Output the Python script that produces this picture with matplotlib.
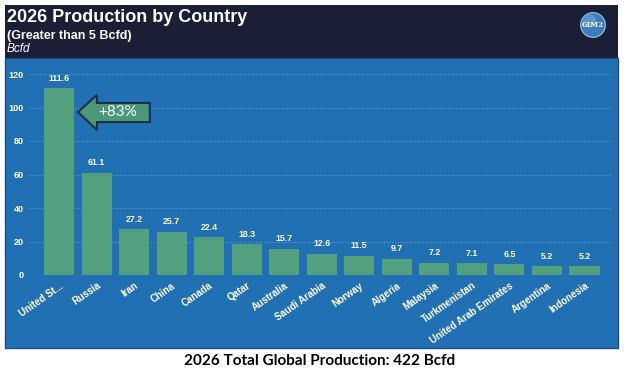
import matplotlib
matplotlib.use("Agg")
import matplotlib.pyplot as plt
from matplotlib.patches import Rectangle, Polygon, Circle

countries = ["United St...", "Russia", "Iran", "China", "Canada", "Qatar", "Australia",
             "Saudi Arabia", "Norway", "Algeria", "Malaysia", "Turkmenistan",
             "United Arab Emirates", "Argentina", "Indonesia"]
production = [111.6, 61.1, 27.2, 25.7, 22.4, 18.3, 15.7, 12.6, 11.5, 9.7, 7.2, 7.1, 6.5, 5.2, 5.2]
yticks = [0, 20, 40, 60, 80, 100, 120]
title = "2026 Production by Country"
subtitle = "(Greater than 5 Bcfd)"
unit = "Bcfd"
arrow_label = "+83%"
footer = "2026 Total Global Production: 422 Bcfd"

W, H = 624, 374
fig = plt.figure(figsize=(W / 100, H / 100), dpi=100)
fig.patch.set_facecolor("white")

def fx(px):
    return px / W

def fy(py):
    return 1 - py / H

NAVY = "#1b1f36"
BLUE = "#2170b3"
GREEN = "#52a07d"

# panel backgrounds
fig.patches.append(Rectangle((fx(5), fy(348)), fx(613) - fx(0), fy(58) - fy(348),
                             transform=fig.transFigure, facecolor=BLUE,
                             edgecolor="#1a4f86", linewidth=1.0, zorder=-10))
fig.patches.append(Rectangle((fx(5), fy(58)), fx(613) - fx(0), fy(5) - fy(58),
                             transform=fig.transFigure, facecolor=NAVY,
                             edgecolor="none", zorder=-10))

fig.text(fx(7), fy(18), title, color="white", fontsize=13, fontweight="bold",
         family="Liberation Sans", va="center", ha="left")
fig.text(fx(7), fy(36), subtitle, color="white", fontsize=9, fontweight="bold",
         family="Liberation Sans", va="center", ha="left")
fig.text(fx(7), fy(49), unit, color="white", fontsize=8.5, fontstyle="italic",
         family="Liberation Sans", va="center", ha="left")

# logo
lax = fig.add_axes([fx(580), fy(38), 26 / W, 26 / H])
lax.set_xlim(-1, 1); lax.set_ylim(-1, 1); lax.set_aspect("equal"); lax.axis("off")
lax.add_patch(Circle((0, 0), 0.95, facecolor="#3b7cbd", edgecolor="#9cc4e6", linewidth=0.8))
lax.add_patch(Circle((-0.25, 0.3), 0.5, facecolor="#6fa6d8", edgecolor="none", alpha=0.6))
lax.text(0, 0, "GIM2", color="white", fontsize=5, fontweight="bold",
         family="DejaVu Serif", ha="center", va="center")

# main axes
ax_left, ax_right = 28, 612
y0_px = 275
ppu = 1.675
ytop = 125
ax_top = y0_px - ytop * ppu
ax = fig.add_axes([fx(ax_left), fy(y0_px), fx(ax_right) - fx(ax_left), fy(ax_top) - fy(y0_px)])
ax.set_facecolor("none")
x = list(range(len(countries)))
ax.bar(x, production, width=0.8, color=GREEN, zorder=3)
spacing = 37.54
ax.set_xlim(-(59 - ax_left) / spacing, 14 + (ax_right - 584.5) / spacing)
ax.set_ylim(0, ytop)
ax.set_yticks(yticks)
ax.set_yticklabels([str(v) for v in yticks])
ax.yaxis.grid(True, color="#5d9ad0", linestyle=(0, (1, 1.5)), linewidth=0.8, zorder=1)
ax.set_axisbelow(True)
for s in ax.spines.values():
    s.set_visible(False)
ax.tick_params(axis="both", length=0, colors="white")
ax.tick_params(axis="y", pad=3)
for lab in ax.get_yticklabels():
    lab.set_fontsize(6.5); lab.set_fontweight("bold"); lab.set_family("Liberation Sans")
ax.set_xticks(x)
ax.set_xticklabels(countries, rotation=35, ha="right", rotation_mode="anchor",
                   fontsize=7, fontweight="bold", family="Liberation Sans", color="white")
ax.tick_params(axis="x", pad=4)

for xi, v in zip(x, production):
    ax.annotate(f"{v:.1f}", (xi, v), xytext=(0, 4), textcoords="offset points",
                ha="center", va="bottom", color="white", fontsize=6.3,
                fontweight="bold", family="Liberation Sans")

# arrow annotation
arrow = Polygon([(0.506, 97.3), (1.01, 107.5), (1.01, 102.7), (2.42, 102.7),
                 (2.42, 91.3), (1.01, 91.3), (1.01, 86.6)], closed=True,
                facecolor="#4a9a79", edgecolor="#1c2f4a", linewidth=1.5, zorder=5)
ax.add_patch(arrow)
ax.text(1.57, 97.3, arrow_label, color="white", fontsize=11, family="Lato",
        ha="center", va="center", zorder=6)

fig.text(fx(320), fy(361), footer, color="black", fontsize=11, fontweight="bold",
         family="Lato", ha="center", va="center")

fig.savefig("out.png", dpi=100, facecolor="white")
